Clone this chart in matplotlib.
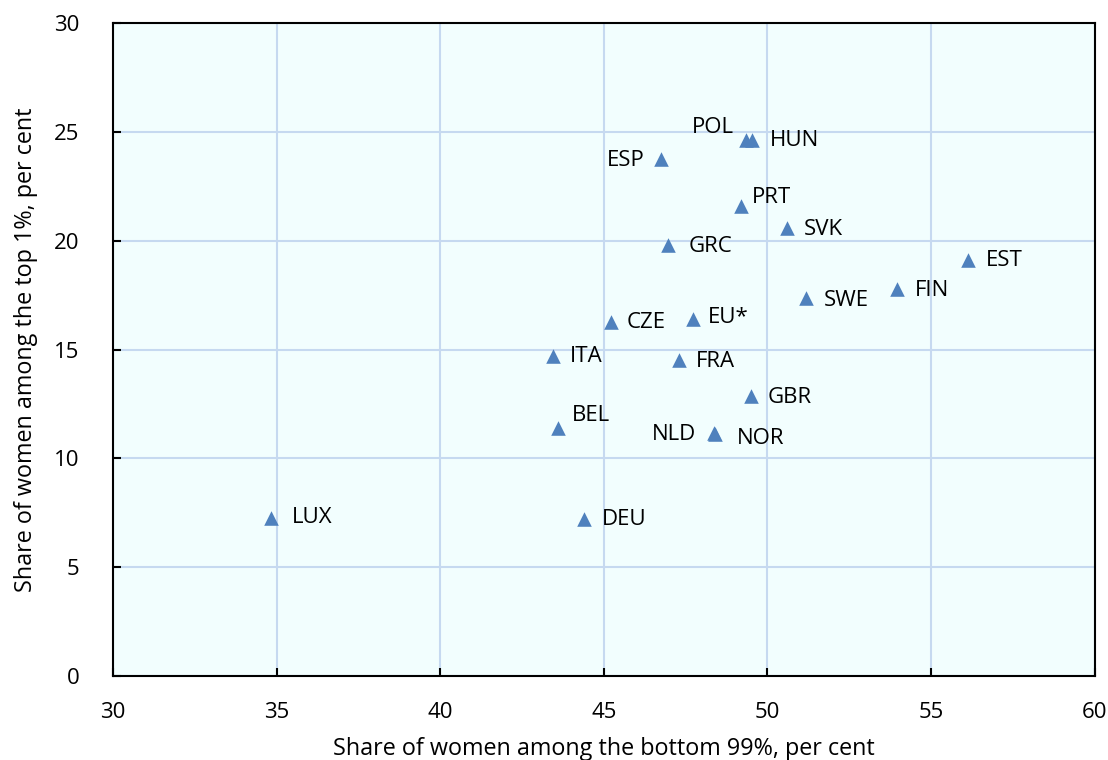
import matplotlib
matplotlib.use("Agg")
import matplotlib.pyplot as plt

plt.rcParams['font.family'] = ['Open Sans', 'DejaVu Sans']

# data
codes = ['LUX', 'DEU', 'BEL', 'ITA', 'CZE', 'EU*', 'FRA', 'NLD', 'NOR', 'GBR',
         'GRC', 'ESP', 'POL', 'HUN', 'PRT', 'SVK', 'SWE', 'FIN', 'EST']
bottom99 = [34.83, 44.39, 43.60, 43.44, 45.22, 47.72, 47.29, 48.36, 48.40, 49.49,
            46.96, 46.74, 49.34, 49.52, 49.19, 50.59, 51.17, 53.95, 56.12]
top1 = [7.26, 7.21, 11.39, 14.70, 16.26, 16.40, 14.52, 11.16, 11.12, 12.86,
        19.80, 23.75, 24.62, 24.62, 21.59, 20.58, 17.36, 17.78, 19.11]

xticks = [30, 35, 40, 45, 50, 55, 60]
yticks = [0, 5, 10, 15, 20, 25, 30]

# label placement (offset in points, horizontal alignment)
label_pos = {
    'LUX': (15, 0, 'left'), 'DEU': (13, 0, 'left'), 'BEL': (10, 9, 'left'),
    'ITA': (12, 0, 'left'), 'CZE': (11, 0, 'left'), 'EU*': (11, 1, 'left'),
    'FRA': (12, -1, 'left'), 'NLD': (-13, -1, 'right'), 'NOR': (16, -3, 'left'),
    'GBR': (12, -1, 'left'), 'GRC': (15, -1, 'left'), 'ESP': (-12, -1, 'right'),
    'POL': (-9, 9, 'right'), 'HUN': (13, 0, 'left'), 'PRT': (8, 6, 'left'),
    'SVK': (12, -1, 'left'), 'SWE': (13, -2, 'left'), 'FIN': (13, -1, 'left'),
    'EST': (13, 0, 'left'),
}

fig = plt.figure(figsize=(11.08, 7.6), dpi=100)
ax = fig.add_axes([0.102, 0.1105, 0.886, 0.8592])
ax.set_facecolor('#F2FEFE')

ax.scatter(bottom99, top1, marker='^', s=110, color='#4F81BD', zorder=3, linewidths=0)

for c, x, y in zip(codes, bottom99, top1):
    dx, dy, ha = label_pos[c]
    ax.annotate(c, (x, y), xytext=(dx, dy), textcoords='offset points',
                ha=ha, va='center', fontsize=16, color='black')

ax.set_xlim(30, 60)
ax.set_ylim(0, 30)
ax.set_xticks(xticks)
ax.set_yticks(yticks)
ax.grid(True, color='#C6D9F0', linewidth=1.5)
ax.set_axisbelow(True)

for s in ax.spines.values():
    s.set_linewidth(1.5)
    s.set_color('black')

ax.tick_params(direction='in', length=6, width=1.5, labelsize=16)
ax.tick_params(axis='x', pad=19)
ax.tick_params(axis='y', pad=24)
ax.set_xlabel('Share of women among the bottom 99%, per cent', fontsize=16.8, labelpad=10)
ax.set_ylabel('Share of women among the top 1%, per cent', fontsize=16.8, labelpad=12)

fig.savefig('out.png', dpi=100)
